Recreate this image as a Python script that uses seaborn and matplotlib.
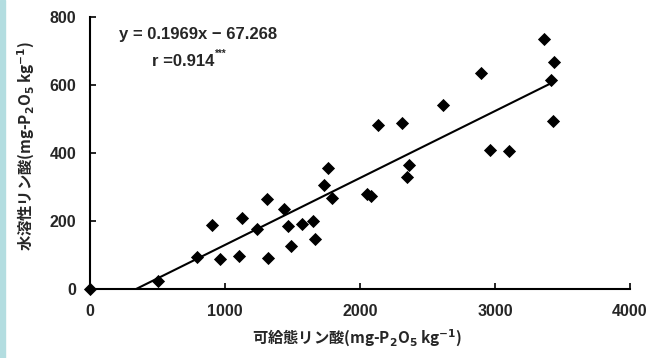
import matplotlib
matplotlib.use("Agg")
import matplotlib.pyplot as plt
import seaborn as sns
import numpy as np
import pandas as pd

# Data
available_p = [0, 500, 790, 904, 965, 1101, 1126, 1237, 1309, 1321, 1439, 1469,
               1486, 1568, 1654, 1664, 1733, 1763, 1793, 2049, 2081, 2131, 2313,
               2350, 2365, 2612, 2896, 2963, 3106, 3361, 3415, 3427, 3435]
water_p = [0, 25, 95, 188, 88, 96, 208, 176, 265, 90, 234, 186,
           127, 191, 200, 148, 307, 356, 268, 279, 274, 483, 487,
           329, 366, 542, 634, 409, 407, 736, 615, 494, 668]
slope = 0.1969
intercept = -67.268
x_ticks = [0, 1000, 2000, 3000, 4000]
y_ticks = [0, 200, 400, 600, 800]

df = pd.DataFrame({"x": available_p, "y": water_p})

sns.set_theme(style="white")
plt.rcParams["font.family"] = ["Noto Sans CJK JP", "DejaVu Sans"]
plt.rcParams["mathtext.default"] = "bf"

fig = plt.figure(figsize=(6.6, 3.58), dpi=100)
fig.patches.append(matplotlib.patches.Rectangle((0, 0), 5 / 660, 1, transform=fig.transFigure,
                                                color="#b3dde0", zorder=0))
ax = fig.add_axes([90 / 660, 1 - 289 / 358, 540 / 660, 272 / 358])

sns.scatterplot(data=df, x="x", y="y", marker="D", s=45, color="black",
                edgecolor="black", linewidth=0, ax=ax, zorder=3, clip_on=False)

x0 = -intercept / slope
x1 = max(available_p)
ax.plot([x0, x1], [slope * x0 + intercept, slope * x1 + intercept], color="black", lw=1.5)

ax.set_xlim(0, 4000)
ax.set_ylim(0, 800)
ax.set_xticks(x_ticks)
ax.set_yticks(y_ticks)
ax.set_xticklabels([str(t) for t in x_ticks], fontweight="bold", fontsize=11.5, family="Liberation Sans")
ax.set_yticklabels([str(t) for t in y_ticks], fontweight="bold", fontsize=11.5, family="Liberation Sans")
ax.tick_params(axis="x", direction="in", length=4, width=1.2, color="black", bottom=True, pad=11)
ax.tick_params(axis="y", direction="in", length=4, width=1.2, color="black", left=True, pad=10)
for s in ["top", "right"]:
    ax.spines[s].set_visible(False)
for s in ["left", "bottom"]:
    ax.spines[s].set_color("black")
    ax.spines[s].set_linewidth(1.5)

ax.set_xlabel("可給態リン酸(mg-P$_2$O$_5$ kg$^{-1}$)", fontsize=11, fontweight="bold")
ax.set_ylabel("水溶性リン酸(mg-P$_2$O$_5$ kg$^{-1}$)", fontsize=11, fontweight="bold")
ax.xaxis.set_label_coords((357 - 90) / 540, (289 - 328) / 272)
ax.yaxis.set_label_coords((37 - 90) / 540, (289 - 146) / 272)

ax.text((198 - 90) / 540, (289 - 35) / 272, "y = 0.1969x − 67.268", transform=ax.transAxes,
        ha="center", va="center", fontsize=12, fontweight="bold", family="Liberation Sans")
ax.text((214 - 90) / 540, (289 - 62) / 272, "r =0.914", transform=ax.transAxes,
        ha="right", va="center", fontsize=12, fontweight="bold", family="Liberation Sans")
ax.text((215 - 90) / 540, (289 - 54) / 272, "***", transform=ax.transAxes,
        ha="left", va="center", fontsize=7, fontweight="bold", family="Liberation Sans")

fig.savefig("out.png", dpi=100)
